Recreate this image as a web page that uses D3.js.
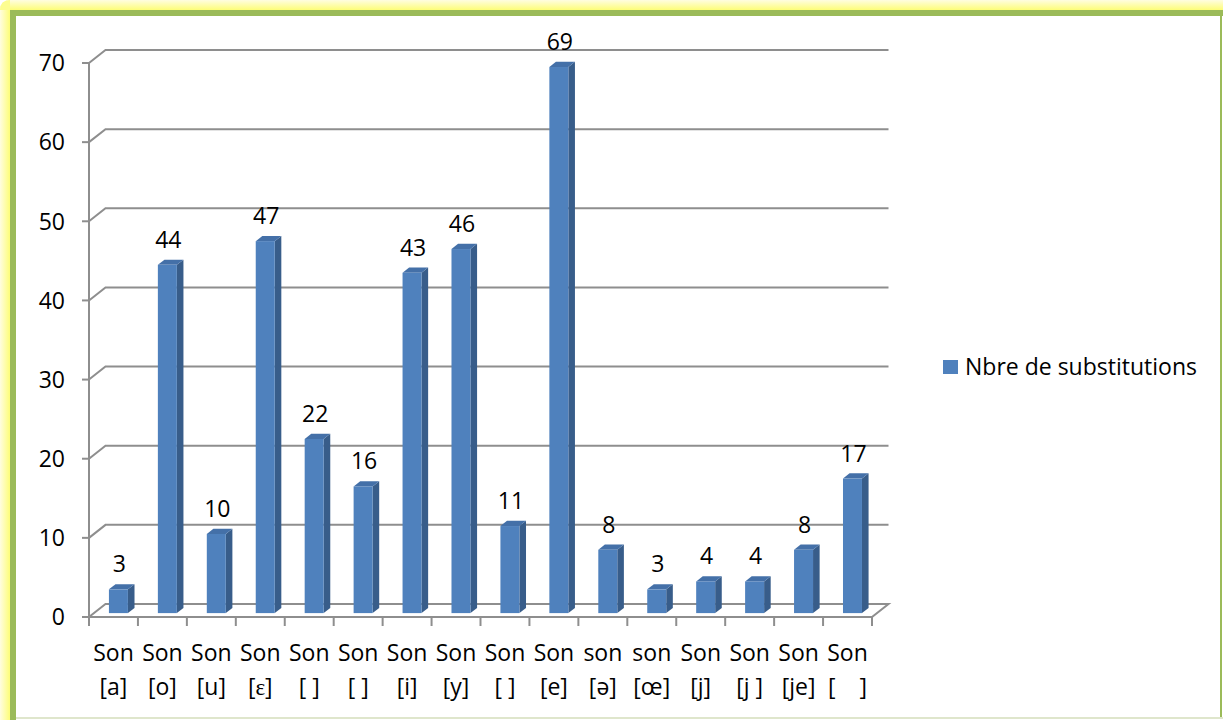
<!DOCTYPE html>
<html><head><meta charset="utf-8">
<script src="https://cdn.jsdelivr.net/npm/d3@7"></script>
<style>html,body{margin:0;padding:0;background:#fff;}svg{display:block;}text{white-space:pre;}</style>
</head><body>
<script>
const categoriesLine1 = ["Son","Son","Son","Son","Son","Son","Son","Son","Son","Son","son","son","Son","Son","Son","Son"];
const categoriesLine2 = ["[a]","[o]","[u]","[ɛ]","[ ]","[ ]","[i]","[y]","[ ]","[e]","[ə]","[œ]","[j]","[j ]","[je]","[    ]"];
const values = [3,44,10,47,22,16,43,46,11,69,8,3,4,4,8,17];
const yTicks = [0,10,20,30,40,50,60,70];
const seriesName = "Nbre de substitutions";

const W = 1223, H = 720;
const FS = 23;
const svg = d3.select("body").append("svg").attr("width", W).attr("height", H);
const defs = svg.append("defs");
const gT = defs.append("linearGradient").attr("id","glowT").attr("x1",0).attr("y1",0).attr("x2",0).attr("y2",1);
gT.append("stop").attr("offset","0%").attr("stop-color","#fffde0");
gT.append("stop").attr("offset","100%").attr("stop-color","#fdfd78");
const gL = defs.append("linearGradient").attr("id","glowL").attr("x1",0).attr("y1",0).attr("x2",1).attr("y2",0);
gL.append("stop").attr("offset","0%").attr("stop-color","#fffde0");
gL.append("stop").attr("offset","100%").attr("stop-color","#fdfd78");

// frame
svg.append("rect").attr("x",0).attr("y",0).attr("width",W).attr("height",H).attr("fill","#fff");
svg.append("rect").attr("x",6).attr("y",0).attr("width",W-6).attr("height",10).attr("fill","url(#glowT)");
svg.append("rect").attr("x",0).attr("y",6).attr("width",10).attr("height",H-6).attr("fill","url(#glowL)");
svg.append("path").attr("d","M0,10 Q0,0 10,0 L10,10 Z").attr("fill","#fdfd90");
svg.append("rect").attr("x",10).attr("y",10).attr("width",W-10).attr("height",6).attr("fill","#9bbb59");
svg.append("rect").attr("x",10).attr("y",10).attr("width",6).attr("height",H-10).attr("fill","#9bbb59");
svg.append("rect").attr("x",1220).attr("y",16).attr("width",2).attr("height",H-18).attr("fill","#9bbb59");
svg.append("rect").attr("x",16).attr("y",717).attr("width",W-16).attr("height",2).attr("fill","#dfe6cc");

// plot geometry
const x0 = 89, x1 = 872;
const depthX = 16.5, depthY = -13;
const y = d3.scaleLinear().domain([0,70]).range([617,63]);
const x = d3.scaleBand().domain(d3.range(values.length)).range([x0,x1]).paddingInner(0.612).paddingOuter(0.306);
const step = x.step();

const grid = svg.append("g");
const gridColor = "#8e8e8e";
yTicks.forEach(t => {
  const yf = y(t);
  if (t > 0) {
    grid.append("path").attr("d",`M${x0},${yf} L${x0+depthX},${yf+depthY} L${x1+depthX},${yf+depthY}`)
      .attr("fill","none").attr("stroke",gridColor).attr("stroke-width",2);
  }
  grid.append("line").attr("x1",x0-7).attr("x2",x0).attr("y1",yf).attr("y2",yf).attr("stroke",gridColor).attr("stroke-width",2);
  grid.append("text").attr("x",65).attr("y",yf).attr("dy","0.36em").attr("text-anchor","end")
    .attr("font-family","'Open Sans'").attr("font-size",FS).attr("fill","#000").text(t);
});
// floor
const yb = y(0);
grid.append("path").attr("d",`M${x0},${yb} L${x1},${yb} L${x1+depthX},${yb+depthY} L${x0+depthX},${yb+depthY} Z`)
  .attr("fill","none").attr("stroke",gridColor).attr("stroke-width",2).attr("stroke-linejoin","miter");
// vertical axis
grid.append("line").attr("x1",x0).attr("x2",x0).attr("y1",y(0)+1).attr("y2",y(70)).attr("stroke",gridColor).attr("stroke-width",2);
// x ticks
for (let i = 0; i <= values.length; i++) {
  const xt = x0 + i*step;
  grid.append("line").attr("x1",xt).attr("x2",xt).attr("y1",yb).attr("y2",yb+9).attr("stroke",gridColor).attr("stroke-width",2);
}

// bars
const bf = 0.3, bd = 0.4;
const bars = svg.append("g");
values.forEach((v,i) => {
  const bx = x(i) + bf*depthX;
  const bw = x.bandwidth();
  const ybot = y(0) + bf*depthY;
  const ytop = y(v) + bf*depthY;
  const dx = bd*depthX, dy = bd*depthY;
  bars.append("path").attr("d",`M${bx+bw},${ybot} L${bx+bw+dx},${ybot+dy} L${bx+bw+dx},${ytop+dy} L${bx+bw},${ytop} Z`).attr("fill","#385d8a");
  bars.append("path").attr("d",`M${bx},${ytop} L${bx+dx},${ytop+dy} L${bx+bw+dx},${ytop+dy} L${bx+bw},${ytop} Z`).attr("fill","#4470a8");
  bars.append("rect").attr("x",bx).attr("y",ytop).attr("width",bw).attr("height",ybot-ytop).attr("fill","#4f81bd");
  svg.append("text").attr("x",bx+bw/2+1).attr("y",ytop-17).attr("text-anchor","middle")
    .attr("font-family","'Open Sans'").attr("font-size",FS).attr("fill","#000").text(v);
});

// category labels
const lab = svg.append("g").attr("font-family","'Open Sans'").attr("font-size",FS).attr("fill","#000").attr("text-anchor","middle");
values.forEach((v,i) => {
  const cx = x0 + (i+0.5)*step;
  lab.append("text").attr("x",cx).attr("y",661).text(categoriesLine1[i]);
  lab.append("text").attr("x",cx).attr("y",695).text(categoriesLine2[i]);
});

// legend
svg.append("rect").attr("x",943).attr("y",360).attr("width",15).attr("height",14).attr("fill","#4f81bd");
svg.append("text").attr("x",965).attr("y",367).attr("dy","0.36em").attr("font-family","'Open Sans'").attr("font-size",FS).attr("fill","#000").text(seriesName);
</script>
</body></html>
